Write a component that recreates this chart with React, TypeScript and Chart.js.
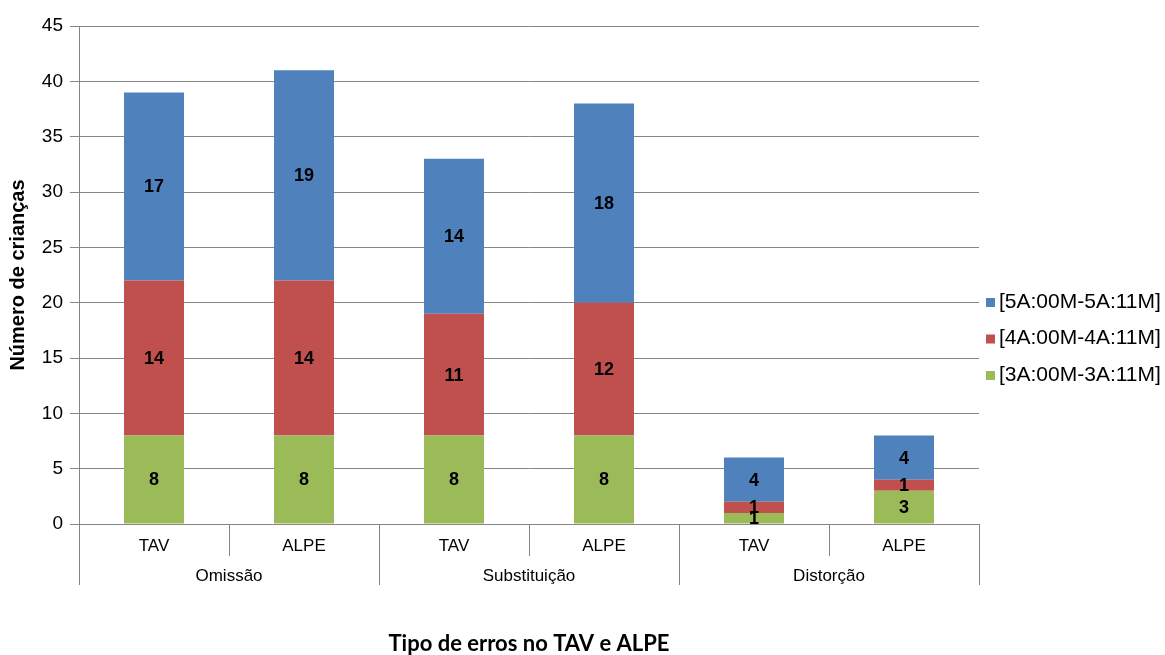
import React, { useEffect, useRef } from "react";
import { Chart, registerables } from "chart.js";

Chart.register(...registerables);

const categories = ["TAV", "ALPE", "TAV", "ALPE", "TAV", "ALPE"];
const groups = ["Omissão", "Substituição", "Distorção"];
const age3 = [8, 8, 8, 8, 1, 3];
const age4 = [14, 14, 11, 12, 1, 1];
const age5 = [17, 19, 14, 18, 4, 4];
const seriesNames = ["[3A:00M-3A:11M]", "[4A:00M-4A:11M]", "[5A:00M-5A:11M]"];
const yTitle = "Número de crianças";
const xTitle = "Tipo de erros no TAV e ALPE";

const GRID = "#868686";
const FONT = "'Liberation Sans', Arial, sans-serif";

const valueLabels = {
  id: "valueLabels",
  afterDatasetsDraw(chart: any) {
    const ctx = chart.ctx;
    ctx.save();
    ctx.font = `bold 18px ${FONT}`;
    ctx.fillStyle = "#000";
    ctx.textAlign = "center";
    ctx.textBaseline = "middle";
    chart.data.datasets.forEach((ds: any, di: number) => {
      const meta = chart.getDatasetMeta(di);
      meta.data.forEach((el: any, i: number) => {
        const v = ds.data[i];
        ctx.fillText(String(v), el.x, (el.y + el.base) / 2 + 1);
      });
    });
    ctx.restore();
  },
};

const groupAxis = {
  id: "groupAxis",
  afterDraw(chart: any) {
    const ctx = chart.ctx;
    const xs = chart.scales.x;
    const n = categories.length;
    const per = n / groups.length;
    const step = n > 1 ? xs.getPixelForValue(1) - xs.getPixelForValue(0) : xs.width;
    const bottom = chart.chartArea.bottom;
    ctx.save();
    ctx.strokeStyle = GRID;
    ctx.lineWidth = 1;
    for (let i = 0; i <= n; i++) {
      const x = Math.round(xs.getPixelForValue(0) - step / 2 + i * step) + 0.5;
      const long = i % per === 0;
      ctx.beginPath();
      ctx.moveTo(x, bottom);
      ctx.lineTo(x, bottom + (long ? 61 : 32));
      ctx.stroke();
    }
    ctx.font = `17px ${FONT}`;
    ctx.fillStyle = "#000";
    ctx.textAlign = "center";
    ctx.textBaseline = "middle";
    groups.forEach((g, gi) => {
      const a = xs.getPixelForValue(gi * per);
      const b = xs.getPixelForValue(gi * per + per - 1);
      ctx.fillText(g, (a + b) / 2, bottom + 52);
    });
    ctx.restore();
  },
};

const sideLegend = {
  id: "sideLegend",
  afterDraw(chart: any) {
    const ctx = chart.ctx;
    const area = chart.chartArea;
    const ds = chart.data.datasets;
    const x0 = area.right + 7;
    const y0 = area.bottom - 222;
    const gap = 36.5;
    ctx.save();
    ctx.font = `21px ${FONT}`;
    ctx.textAlign = "left";
    ctx.textBaseline = "middle";
    for (let k = 0; k < ds.length; k++) {
      const d = ds[ds.length - 1 - k];
      const y = y0 + k * gap;
      ctx.fillStyle = d.backgroundColor;
      ctx.fillRect(x0, y - 4, 9, 9);
      ctx.fillStyle = "#000";
      ctx.fillText(d.label, x0 + 13, y);
    }
    ctx.restore();
  },
};

export default function App() {
  const ref = useRef<HTMLCanvasElement>(null);
  useEffect(() => {
    if (!ref.current) return;
    const chart = new Chart(ref.current, {
      type: "bar",
      data: {
        labels: categories,
        datasets: [
          { label: seriesNames[0], data: age3, backgroundColor: "#9BBB59" },
          { label: seriesNames[1], data: age4, backgroundColor: "#C0504D" },
          { label: seriesNames[2], data: age5, backgroundColor: "#4F81BD" },
        ],
      },
      options: {
        responsive: false,
        animation: false,
        layout: { padding: { top: 26, right: 186, left: 0, bottom: 0 } },
        datasets: { bar: { barPercentage: 0.4, categoryPercentage: 1 } },
        plugins: {
          tooltip: { enabled: false },
          legend: { display: false },
        },
        scales: {
          x: {
            stacked: true,
            grid: { display: false, drawTicks: false },
            border: { color: GRID },
            ticks: { font: { family: FONT, size: 17 }, color: "#000", padding: 12, maxRotation: 0 },
            title: {
              display: true,
              text: xTitle,
              font: { family: "Lato, 'Open Sans', sans-serif", size: 22, weight: "bold", lineHeight: 1 },
              color: "#000",
              padding: { top: 0, bottom: 0 },
            },
            afterFit: (s: any) => {
              s.height = 131;
            },
          },
          y: {
            stacked: true,
            min: 0,
            max: 45,
            ticks: { stepSize: 5, font: { family: FONT, size: 19 }, color: "#000", padding: 7 },
            grid: { color: GRID, tickLength: 9 },
            border: { color: GRID },
            title: {
              display: true,
              text: yTitle,
              font: { family: FONT, size: 20, weight: "bold", lineHeight: 1 },
              color: "#000",
              padding: { top: 8, bottom: 0 },
            },
            afterFit: (s: any) => {
              s.width = 79;
            },
          },
        },
      },
      plugins: [valueLabels, groupAxis, sideLegend],
    });
    return () => chart.destroy();
  }, []);
  return (
    <div style={{ position: "fixed", left: 0, top: 0, width: 1165, height: 655, background: "#fff" }}>
      <canvas ref={ref} width={1165} height={655} style={{ display: "block" }} />
    </div>
  );
}
